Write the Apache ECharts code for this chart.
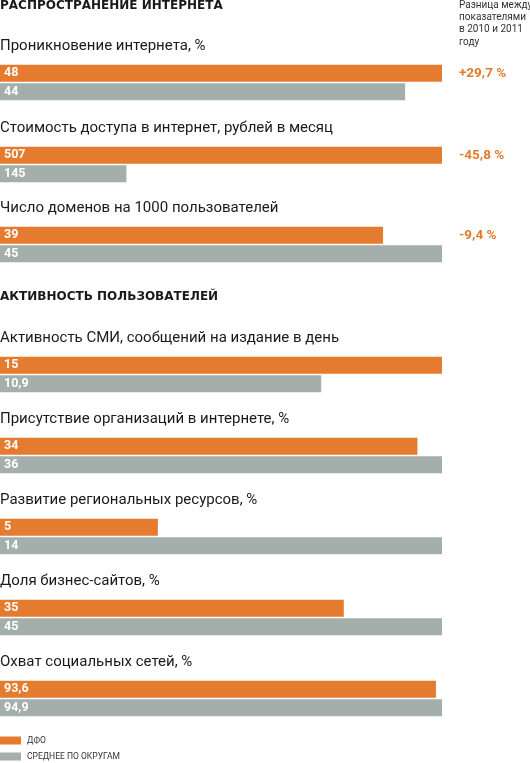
<!DOCTYPE html>
<html>
<head>
<meta charset="utf-8">
<script src="https://cdn.jsdelivr.net/npm/echarts@6/dist/echarts.min.js"></script>
<style>
  html, body { margin: 0; padding: 0; background: #fff; }
  #main { width: 530px; height: 763px; }
</style>
</head>
<body>
<div id="main"></div>
<script>
// данные
var sections = ['РАСПРОСТРАНЕНИЕ ИНТЕРНЕТА', 'АКТИВНОСТЬ ПОЛЬЗОВАТЕЛЕЙ'];
var metrics = [
  'Проникновение интернета, %',
  'Стоимость доступа в интернет, рублей в месяц',
  'Число доменов на 1000 пользователей',
  'Активность СМИ, сообщений на издание в день',
  'Присутствие организаций в интернете, %',
  'Развитие региональных ресурсов, %',
  'Доля бизнес-сайтов, %',
  'Охват социальных сетей, %'
];
var dfo = [48, 507, 39, 15, 34, 5, 35, 93.6];
var avg = [44, 145, 45, 10.9, 36, 14, 45, 94.9];
var diffs = ['+29,7 %', '-45,8 %', '-9,4 %'];
var seriesNames = ['ДФО', 'СРЕДНЕЕ ПО ОКРУГАМ'];
var diffHeader = 'Разница между\nпоказателями\nв 2010 и 2011\nгоду';

// раскладка
var barTops = [64, 146, 226, 356, 437, 518, 599, 680];
var sectionTops = [0, 291];
var ORANGE = '#e57b2e', GREY = '#a4aeab';
var FONT = 'Roboto';

var fmt = function (v) { return String(v).replace('.', ','); };

var grids = [], xAxes = [], yAxes = [], series = [], titles = [];

sections.forEach(function (s, i) {
  titles.push({
    text: s, left: 0, top: sectionTops[i], padding: 0,
    textStyle: { fontFamily: 'DejaVu Sans', fontSize: 12, fontWeight: 'bold', color: '#1a1a1a' }
  });
});

titles.push({
  text: diffHeader, left: 459, top: -1, padding: 0,
  textStyle: { fontFamily: FONT, fontSize: 10, fontWeight: 'normal', color: '#333', lineHeight: 12.3 }
});

metrics.forEach(function (m, i) {
  var top = barTops[i];
  titles.push({
    text: m, left: 0, top: top - 25, padding: 0,
    textStyle: { fontFamily: FONT, fontSize: 15, fontWeight: 'normal', color: '#1a1a1a' }
  });
  if (diffs[i]) {
    titles.push({
      text: diffs[i], left: 459, top: top + 3, padding: 0,
      textStyle: { fontFamily: FONT, fontSize: 13.5, fontWeight: 'bold', color: ORANGE }
    });
  }
  grids.push({ left: 0, top: top, width: 442, height: 37 });
  xAxes.push({ type: 'value', gridIndex: i, min: 0, max: Math.max(dfo[i], avg[i]), show: false });
  yAxes.push({ type: 'category', gridIndex: i, data: ['a', 'b'], inverse: true, show: false });
  [dfo[i], avg[i]].forEach(function (v, k) {
    var data = k === 0 ? [v, '-'] : ['-', v];
    series.push({
      name: seriesNames[k],
      type: 'bar',
      xAxisIndex: i, yAxisIndex: i,
      barWidth: 17, barGap: '-100%',
      itemStyle: { color: k === 0 ? ORANGE : GREY },
      label: {
        show: true, position: 'insideLeft', distance: 4,
        color: '#fff', fontFamily: FONT, fontWeight: 'bold', fontSize: 12.5,
        formatter: function (p) { return fmt(p.value); }
      },
      data: data,
      silent: true, animation: false
    });
  });
});

var chart = echarts.init(document.getElementById('main'));
chart.setOption({
  backgroundColor: '#fff',
  animation: false,
  title: titles,
  legend: {
    data: seriesNames, orient: 'vertical', left: 0, top: 736,
    icon: 'rect', itemWidth: 21, itemHeight: 8, itemGap: 7,
    selectedMode: false,
    textStyle: { fontFamily: FONT, fontSize: 8.5, color: '#333', padding: [0, 0, 0, 1] },
    padding: 0
  },
  grid: grids,
  xAxis: xAxes,
  yAxis: yAxes,
  series: series
});
</script>
</body>
</html>
